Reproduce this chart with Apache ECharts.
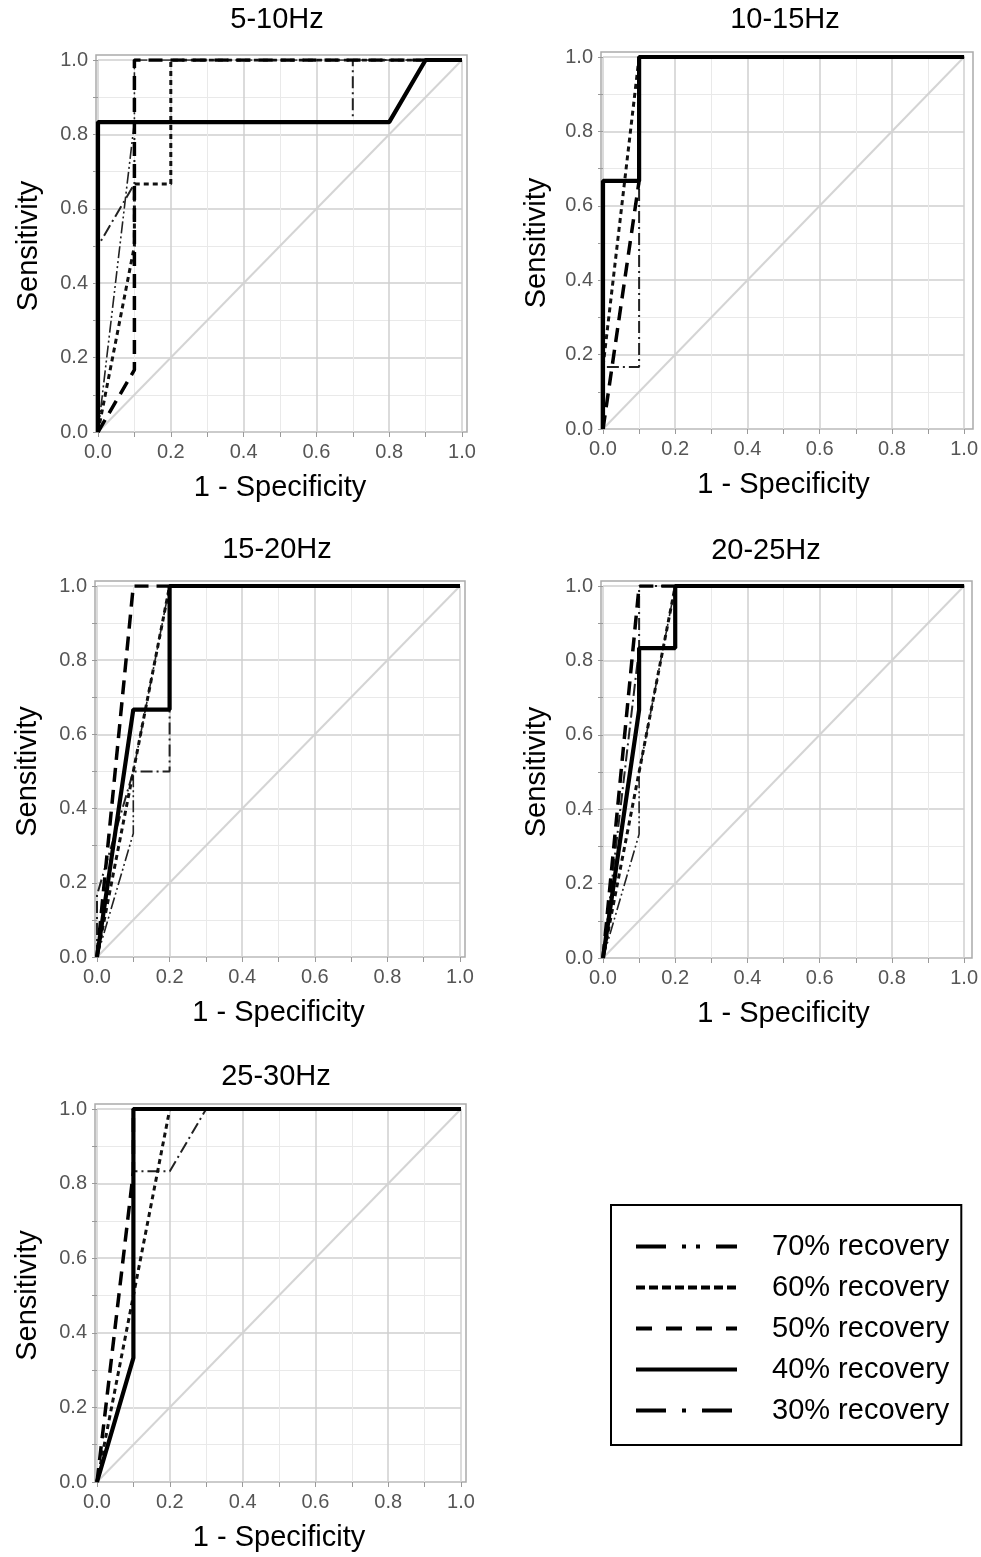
<!DOCTYPE html>
<html><head><meta charset="utf-8">
<script src="https://cdn.jsdelivr.net/npm/echarts@6/dist/echarts.min.js"></script>
<style>html,body{margin:0;padding:0;background:#fff}#c{width:981px;height:1557px}</style>
</head><body><div id="c"></div>
<script>
// ---- DATA: ROC curves, points are [1 - Specificity, Sensitivity] ----
const panelTitles = ['5-10Hz', '10-15Hz', '15-20Hz', '20-25Hz', '25-30Hz'];
const seriesNames = ['70% recovery', '60% recovery', '50% recovery', '40% recovery', '30% recovery'];
const tickLabels = [0.0, 0.2, 0.4, 0.6, 0.8, 1.0];
const chanceLine = [[0, 0], [1, 1]];

// 5-10Hz
const hz5_10_rec70 = [[0, 0], [0.1, 0.833], [0.1, 1], [1, 1]];
const hz5_10_rec60 = [[0, 0], [0.1, 0.5], [0.1, 0.667], [0.2, 0.667], [0.2, 1], [1, 1]];
const hz5_10_rec50 = [[0, 0], [0.1, 0.167], [0.1, 1], [1, 1]];
const hz5_10_rec40 = [[0, 0], [0, 0.833], [0.8, 0.833], [0.9, 1], [1, 1]];
const hz5_10_rec30 = [[0, 0], [0, 0.5], [0.1, 0.667], [0.1, 0.833], [0.7, 0.833], [0.7, 1], [1, 1]];
// 10-15Hz
const hz10_15_rec70 = [[0, 0], [0, 0.667], [0.1, 0.667], [0.1, 1], [1, 1]];
const hz10_15_rec60 = [[0, 0], [0, 0.167], [0.1, 1], [1, 1]];
const hz10_15_rec50 = [[0, 0], [0.1, 0.667], [0.1, 1], [1, 1]];
const hz10_15_rec40 = [[0, 0], [0, 0.667], [0.1, 0.667], [0.1, 1], [1, 1]];
const hz10_15_rec30 = [[0, 0], [0, 0.167], [0.1, 0.167], [0.1, 1], [1, 1]];
// 15-20Hz
const hz15_20_rec70 = [[0, 0], [0.1, 0.333], [0.1, 0.5], [0.2, 1], [1, 1]];
const hz15_20_rec60 = [[0, 0], [0.2, 1], [1, 1]];
const hz15_20_rec50 = [[0, 0], [0.1, 1], [1, 1]];
const hz15_20_rec40 = [[0, 0], [0.1, 0.667], [0.2, 0.667], [0.2, 1], [1, 1]];
const hz15_20_rec30 = [[0, 0], [0, 0.167], [0.1, 0.5], [0.2, 0.5], [0.2, 1], [1, 1]];
// 20-25Hz
const hz20_25_rec70 = [[0, 0], [0.1, 0.333], [0.1, 0.5], [0.2, 1], [1, 1]];
const hz20_25_rec60 = [[0, 0], [0.1, 0.5], [0.2, 1], [1, 1]];
const hz20_25_rec50 = [[0, 0], [0.1, 1], [1, 1]];
const hz20_25_rec40 = [[0, 0], [0.1, 0.667], [0.1, 0.833], [0.2, 0.833], [0.2, 1], [1, 1]];
const hz20_25_rec30 = [[0, 0], [0.1, 0.833], [0.1, 1], [1, 1]];
// 25-30Hz
const hz25_30_rec70 = [[0, 0], [0.1, 0.333], [0.1, 1], [1, 1]];
const hz25_30_rec60 = [[0, 0], [0.2, 1], [1, 1]];
const hz25_30_rec50 = [[0, 0], [0.1, 0.833], [0.1, 1], [1, 1]];
const hz25_30_rec40 = [[0, 0], [0.1, 0.333], [0.1, 1], [1, 1]];
const hz25_30_rec30 = [[0, 0], [0.1, 0.333], [0.1, 0.833], [0.2, 0.833], [0.3, 1], [1, 1]];

// ---- presentation ----
const curves = [
  [hz5_10_rec70, hz5_10_rec60, hz5_10_rec50, hz5_10_rec40, hz5_10_rec30],
  [hz10_15_rec70, hz10_15_rec60, hz10_15_rec50, hz10_15_rec40, hz10_15_rec30],
  [hz15_20_rec70, hz15_20_rec60, hz15_20_rec50, hz15_20_rec40, hz15_20_rec30],
  [hz20_25_rec70, hz20_25_rec60, hz20_25_rec50, hz20_25_rec40, hz20_25_rec30],
  [hz25_30_rec70, hz25_30_rec60, hz25_30_rec50, hz25_30_rec40, hz25_30_rec30]
];
const layout = [
  {left: 98, top: 60, w: 364, h: 372, tx: 272, ty: 20, yGap: 55},
  {left: 603, top: 57, w: 365, h: 372, tx: 780, ty: 20, yGap: 52},
  {left: 97, top: 586, w: 363, h: 371, tx: 272, ty: 550, yGap: 55},
  {left: 603, top: 586, w: 364, h: 372, tx: 761, ty: 551, yGap: 52},
  {left: 97, top: 1109, w: 364, h: 373, tx: 271, ty: 1077, yGap: 55}
];
const styles = [
  {color: '#222', width: 1.6, type: [12, 3, 2, 3, 2, 3]},
  {color: '#111', width: 3, type: [5, 4]},
  {color: '#000', width: 3.5, type: [14, 8]},
  {color: '#000', width: 4.2, type: 'solid'},
  {color: '#222', width: 2, type: [12, 4, 2, 4]}
];
const legendStyles = [
  {color: '#000', width: 4, type: [30, 16, 4, 10, 4, 16]},
  {color: '#000', width: 4, type: [9, 4]},
  {color: '#000', width: 4, type: [16, 14]},
  {color: '#000', width: 4, type: 'solid'},
  {color: '#000', width: 4, type: [30, 16, 4, 16]}
];
const drawOrder = [4, 0, 1, 2, 3];
const FONT = '"Liberation Sans", Arial, sans-serif';
const HIDDEN = 'rgba(0,0,0,0)';

const grids = [], xAxes = [], yAxes = [], titles = [], series = [], graphics = [];
layout.forEach((L, i) => {
  grids.push({left: L.left, top: L.top, width: L.w, height: L.h, containLabel: false});
  titles.push({text: panelTitles[i], left: L.tx, top: L.ty - 20, textAlign: 'center',
    textStyle: {fontSize: 29, fontWeight: 'normal', fontFamily: FONT, color: '#000'}});
  const common = {
    gridIndex: i, type: 'value', min: 0, max: 1, interval: 0.2,
    axisLine: {show: false},
    axisTick: {show: true, length: 5, lineStyle: {color: '#9a9a9a'}},
    minorTick: {show: true, splitNumber: 2, length: 5, lineStyle: {color: '#9a9a9a'}},
    splitLine: {show: true, lineStyle: {color: '#cfcfcf', width: 1.5}},
    minorSplitLine: {show: true, lineStyle: {color: '#e9e9e9', width: 1}},
    axisLabel: {margin: 10, fontSize: 20, fontFamily: FONT, color: '#555',
      formatter: v => (tickLabels.some(t => Math.abs(t - v) < 1e-6) ? v.toFixed(1) : '')},
    nameLocation: 'middle',
    nameTextStyle: {fontSize: 29, fontFamily: FONT, color: '#000'}
  };
  xAxes.push(Object.assign({}, common, {name: '1 - Specificity', nameGap: 41}));
  yAxes.push(Object.assign({}, common, {name: 'Sensitivity', nameGap: L.yGap}));
  graphics.push({type: 'rect', z: 0, silent: true,
    shape: {x: L.left - 2, y: L.top - 5, width: L.w + 7, height: L.h + 5},
    style: {fill: 'none', stroke: '#ababab', lineWidth: 1.5}});
  series.push({type: 'line', name: 'chance', xAxisIndex: i, yAxisIndex: i, data: chanceLine,
    symbol: 'none', silent: true, z: 1, lineStyle: {color: '#d4d4d4', width: 2}});
  drawOrder.forEach((k, j) => {
    series.push({type: 'line', name: seriesNames[k], xAxisIndex: i, yAxisIndex: i,
      data: curves[i][k], symbol: 'none', showSymbol: false, silent: true, z: 3 + j,
      itemStyle: {color: HIDDEN, borderColor: HIDDEN, borderWidth: 0},
      lineStyle: Object.assign({}, styles[k])});
  });
});

const chart = echarts.init(document.getElementById('c'), null, {renderer: 'canvas'});
chart.setOption({
  animation: false,
  backgroundColor: '#fff',
  title: titles,
  grid: grids,
  xAxis: xAxes,
  yAxis: yAxes,
  graphic: graphics,
  legend: {
    orient: 'vertical', left: 611, top: 1205,
    padding: [27, 12, 20, 23], itemWidth: 101, itemHeight: 30, itemGap: 12,
    borderColor: '#000', borderWidth: 2, selectedMode: false,
    itemStyle: {color: HIDDEN, borderColor: HIDDEN, borderWidth: 0, opacity: 0},
    textStyle: {fontSize: 29, fontFamily: FONT, color: '#000', padding: [0, 0, 0, 30]},
    data: seriesNames.map((n, k) => ({name: n, lineStyle: legendStyles[k],
      itemStyle: {color: HIDDEN, borderColor: HIDDEN, borderWidth: 0, opacity: 0}}))
  },
  series: series
});
</script>
</body></html>
